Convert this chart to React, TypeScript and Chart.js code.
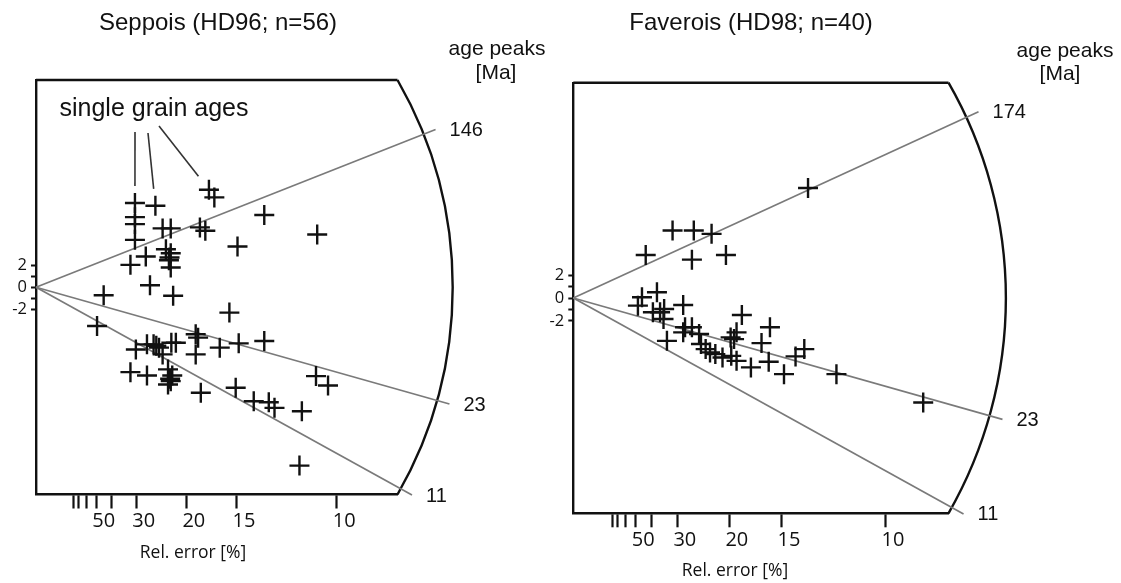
import React, { useEffect, useRef } from "react";
import { Chart, registerables } from "chart.js";

Chart.register(...registerables);

// ---- shared axis values ----
const relErrorTicks = [80, 70, 60, 50, 40, 30, 20, 15, 10]; // % relative error (tick marks)
const relErrorLabels = [50, 30, 20, 15, 10]; // labelled ticks
const zTicks = [-2, -1, 0, 1, 2];
const zLabels = [-2, 0, 2];
const centralAge = 49.7; // Ma, age at z = 0 (horizontal through origin)
const precisionMax = 12.02;
const zRange = 18.8;

// ---- Seppois (HD96; n=56): precision (1/rel.err) and standardized estimate ----
const seppoisPrecision = [
  3.29, 3.97, 5.75, 5.93, 3.29, 3.29, 4.21, 4.48, 5.45, 5.63,
  7.59, 9.35, 6.70, 3.29, 3.65, 4.32, 4.48, 4.44, 4.48, 3.14,
  3.79, 2.25, 4.56, 6.43, 2.03, 5.31, 5.39, 3.32, 3.69, 3.91,
  4.09, 4.21, 4.50, 4.65, 5.31, 6.11, 6.74, 7.59, 3.14, 3.69,
  4.39, 4.53, 4.48, 4.39, 5.48, 6.64, 7.24, 7.74, 7.93, 8.84,
  9.31, 9.71, 8.76, 4.42, 4.46, 4.00,
];
const seppoisZ = [
  7.64, 7.39, 8.85, 8.15, 6.36, 5.73, 5.34, 5.34, 5.43, 5.12,
  6.55, 4.79, 3.70, 4.30, 2.79, 3.45, 3.09, 2.70, 1.79, 2.03,
  0.18, -0.73, -0.77, -2.30, -3.52, -4.27, -4.57, -5.65, -5.18, -5.18,
  -5.48, -6.09, -5.03, -5.03, -6.09, -5.48, -5.09, -4.88, -7.70, -8.0,
  -7.45, -8.0, -8.52, -8.82, -9.57, -9.12, -10.34, -10.43, -10.94, -11.25,
  -8.06, -8.91, -16.18, 2.45, -8.30, -5.30,
];
const seppoisPeaks = [146, 23, 11];

// ---- Faverois (HD98; n=40) ----
const faveroisPrecision = [
  7.52, 3.18, 3.86, 4.43, 2.32, 3.80, 4.89, 2.20, 2.68, 2.07,
  2.55, 2.78, 2.91, 2.89, 3.52, 3.00, 3.58, 3.80, 3.52, 4.03,
  4.09, 4.24, 4.38, 4.55, 4.78, 5.06, 5.04, 5.15, 5.23, 5.40,
  5.23, 5.69, 6.03, 6.30, 6.26, 6.75, 7.12, 7.40, 8.43, 11.21,
];
const faveroisZ = [
  9.60, 5.89, 5.89, 5.60, 3.76, 3.35, 3.76, 0.06, 0.50, -0.67,
  -1.25, -1.25, -0.96, -1.84, -0.61, -3.74, -2.56, -2.56, -3.00, -3.15,
  -4.02, -4.46, -4.75, -4.90, -5.19, -5.05, -3.44, -3.59, -3.00, -1.49,
  -5.49, -6.06, -3.94, -2.56, -5.57, -6.65, -5.10, -4.46, -6.65, -9.12,
];
const faveroisPeaks = [174, 23, 11];

// annotation: "single grain ages" pointing to these Seppois grains (indices)
const annotatedGrains = [0, 1, 2];

type PanelCfg = {
  left: number;
  width: number;
  padTop: number;
  padRight: number;
  yAxisWidth: number;
  xAxisHeight: number;
  title: string;
  titleX: number;
  titleY: number;
  peaksX: number;
  peaksY: number;
  maX: number;
  maY: number;
  relX: number;
  relY: number;
  precision: number[];
  z: number[];
  peaks: number[];
  annotate: boolean;
};

const HEIGHT = 583;
const INK = "#111";
const SANS = "'Liberation Sans', Arial, sans-serif";
const HUMANIST = "'Open Sans', 'Noto Sans', sans-serif";

const panels: PanelCfg[] = [
  {
    left: 0,
    width: 560,
    padTop: 80,
    padRight: 162.5,
    yAxisWidth: 36,
    xAxisHeight: 88.5,
    title: "Seppois (HD96; n=56)",
    titleX: 218,
    titleY: 23,
    peaksX: 497,
    peaksY: 49,
    maX: 496,
    maY: 73,
    relX: 193,
    relY: 553,
    precision: seppoisPrecision,
    z: seppoisZ,
    peaks: seppoisPeaks,
    annotate: true,
  },
  {
    left: 530,
    width: 591,
    padTop: 82.7,
    padRight: 172.5,
    yAxisWidth: 43.3,
    xAxisHeight: 69.7,
    title: "Faverois (HD98; n=40)",
    titleX: 221,
    titleY: 23,
    peaksX: 535,
    peaksY: 51,
    maX: 530,
    maY: 74,
    relX: 205,
    relY: 571.5,
    precision: faveroisPrecision,
    z: faveroisZ,
    peaks: faveroisPeaks,
    annotate: false,
  },
];

function makePlugin(cfg: PanelCfg) {
  return {
    id: "radialFrame",
    beforeDatasetsDraw(chart: any) {
      const { ctx, chartArea: ca, scales } = chart;
      const xs = scales.x;
      const ys = scales.y;
      const x0 = xs.getPixelForValue(0);
      const y0 = ys.getPixelForValue(0);
      const R = Math.hypot(ca.right - x0, ca.top - y0);
      ctx.save();
      // top edge of frame
      ctx.strokeStyle = INK;
      ctx.lineWidth = 2.4;
      ctx.beginPath();
      ctx.moveTo(ca.left, ca.top);
      ctx.lineTo(ca.right, ca.top);
      ctx.stroke();
      // arc
      const a1 = Math.atan2(ca.top - y0, ca.right - x0);
      const a2 = Math.atan2(ca.bottom - y0, ca.right - x0);
      ctx.beginPath();
      ctx.arc(x0, y0, R, a1, a2);
      ctx.stroke();
      // age peak lines
      ctx.strokeStyle = "#7a7a7a";
      ctx.lineWidth = 1.7;
      ctx.fillStyle = INK;
      ctx.font = `20px ${SANS}`;
      ctx.textAlign = "left";
      ctx.textBaseline = "middle";
      for (const age of cfg.peaks) {
        const slope = Math.log(age / centralAge);
        const dx = xs.getPixelForValue(1) - x0;
        const dy = ys.getPixelForValue(slope) - y0;
        const L = Math.hypot(dx, dy);
        const ex = x0 + (dx / L) * R * 1.031;
        const ey = y0 + (dy / L) * R * 1.031;
        ctx.beginPath();
        ctx.moveTo(x0, y0);
        ctx.lineTo(ex, ey);
        ctx.stroke();
        ctx.fillText(String(age), ex + 14, ey + 1);
      }
      ctx.restore();
    },
    afterDraw(chart: any) {
      const { ctx, scales } = chart;
      ctx.save();
      ctx.fillStyle = INK;
      ctx.textAlign = "center";
      ctx.textBaseline = "middle";
      ctx.font = `24px ${SANS}`;
      ctx.fillText(cfg.title, cfg.titleX, cfg.titleY);
      ctx.font = `21px ${SANS}`;
      ctx.fillText("age peaks", cfg.peaksX, cfg.peaksY);
      ctx.fillText("[Ma]", cfg.maX, cfg.maY);
      ctx.font = `17.5px ${HUMANIST}`;
      ctx.fillText("Rel. error [%]", cfg.relX, cfg.relY);
      if (cfg.annotate) {
        ctx.font = `25px ${SANS}`;
        ctx.fillText("single grain ages", 154, 109);
        const starts = [
          [135, 132],
          [148, 133],
          [159, 126],
        ];
        ctx.strokeStyle = "#333";
        ctx.lineWidth = 1.6;
        annotatedGrains.forEach((gi, k) => {
          const tx = scales.x.getPixelForValue(cfg.precision[gi]);
          const ty = scales.y.getPixelForValue(cfg.z[gi]);
          const [sx, sy] = starts[k];
          const L = Math.hypot(tx - sx, ty - sy);
          const ex = tx - ((tx - sx) / L) * 17;
          const ey = ty - ((ty - sy) / L) * 17;
          ctx.beginPath();
          ctx.moveTo(sx, sy);
          ctx.lineTo(ex, ey);
          ctx.stroke();
        });
      }
      ctx.restore();
    },
  };
}

function RadialPanel({ cfg }: { cfg: PanelCfg }) {
  const ref = useRef<HTMLCanvasElement | null>(null);
  useEffect(() => {
    if (!ref.current) return;
    const chart = new Chart(ref.current, {
      type: "scatter",
      data: {
        datasets: [
          {
            data: cfg.precision.map((p, i) => ({ x: p, y: cfg.z[i] })),
            pointStyle: "cross",
            pointRadius: 10,
            pointBorderWidth: 2.4,
            borderColor: INK,
            backgroundColor: INK,
            showLine: false,
          },
        ],
      },
      options: {
        responsive: false,
        animation: false,
        events: [],
        layout: { padding: { left: 0, right: cfg.padRight, top: cfg.padTop, bottom: 0 } },
        plugins: {
          legend: { display: false },
          tooltip: { enabled: false },
          title: { display: false },
        },
        scales: {
          x: {
            type: "linear",
            min: 0,
            max: precisionMax,
            afterBuildTicks: (s: any) => {
              s.ticks = relErrorTicks.map((e) => ({ value: 100 / e }));
            },
            afterFit: (s: any) => {
              s.height = cfg.xAxisHeight;
            },
            ticks: {
              autoSkip: false,
              maxRotation: 0,
              minRotation: 0,
              labelOffset: 7.5,
              padding: 1,
              color: INK,
              font: { family: HUMANIST, size: 20 },
              callback: (v: any) => {
                const e = Math.round(100 / Number(v));
                return relErrorLabels.includes(e) ? String(e) : "";
              },
            },
            grid: {
              display: true,
              drawOnChartArea: false,
              drawTicks: true,
              tickLength: 14,
              tickWidth: 2.2,
              tickColor: INK,
              color: INK,
            },
            border: { display: true, color: INK, width: 2.4 },
          },
          y: {
            type: "linear",
            min: -zRange,
            max: zRange,
            afterBuildTicks: (s: any) => {
              s.ticks = zTicks.map((v) => ({ value: v }));
            },
            afterFit: (s: any) => {
              s.width = cfg.yAxisWidth;
            },
            ticks: {
              autoSkip: false,
              padding: 4,
              color: INK,
              font: { family: HUMANIST, size: 16.5 },
              callback: (v: any) => (zLabels.includes(Number(v)) ? String(v) : ""),
            },
            grid: {
              display: true,
              drawOnChartArea: false,
              drawTicks: true,
              tickLength: 5,
              tickWidth: 2,
              tickColor: INK,
              color: INK,
            },
            border: { display: true, color: INK, width: 2.4 },
          },
        },
      },
      plugins: [makePlugin(cfg)],
    } as any);
    return () => chart.destroy();
  }, [cfg]);
  return (
    <canvas
      ref={ref}
      width={cfg.width}
      height={HEIGHT}
      style={{ position: "absolute", left: cfg.left, top: 0, width: cfg.width, height: HEIGHT }}
    />
  );
}

export default function App() {
  return (
    <div
      style={{
        position: "fixed",
        left: 0,
        top: 0,
        width: 1121,
        height: HEIGHT,
        background: "#fff",
        overflow: "hidden",
      }}
    >
      {panels.map((p) => (
        <RadialPanel key={p.title} cfg={p} />
      ))}
    </div>
  );
}
